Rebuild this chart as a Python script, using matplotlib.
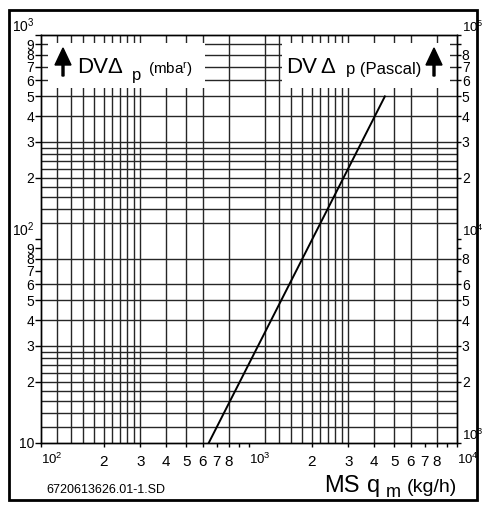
import numpy as np
import matplotlib.pyplot as plt
from matplotlib.patches import Rectangle, FancyArrow

plt.rcParams['font.family'] = ['Liberation Sans', 'DejaVu Sans']

# Kennlinie DV: Massenstrom (kg/h) gegen Druckverlust (mbar)
flow = [640, 4500]
dp = [10, 500]

# Teilung des Gitters je Dekade
steps = [1.2, 1.4, 1.6, 1.8, 2.0, 2.2, 2.4, 2.6, 2.8, 3.0, 4, 5, 6, 8]

x_minor_labels = ['2', '3', '4', '5', '6', '7', '8', '']
left_minor_labels = ['2', '3', '4', '5', '6', '7', '8', '9']
right_low_labels = ['2', '3', '4', '5', '6', '', '8', '']
right_high_labels = ['2', '3', '4', '5', '6', '7', '8', '']

W, H = 484, 507
fig = plt.figure(figsize=(W / 100, H / 100), dpi=100)
ax = fig.add_axes([41 / W, 1 - 443 / H, 416 / W, 408 / H])
ax.set_xscale('log')
ax.set_yscale('log')
ax.set_xlim(100, 10000)
ax.set_ylim(10, 1000)

# gitter
gc = '0.15'
for d in [100, 1000]:
    for s in steps:
        ax.axvline(d * s, color=gc, lw=1.0, zorder=1)
for d in [10, 100]:
    for s in steps:
        ax.axhline(d * s, color=gc, lw=1.0, zorder=1)
for v in [700, 900]:
    ax.axhline(v, color=gc, lw=1.0, zorder=1)

# weisse Felder fuer die Achsentitel
ax.add_patch(Rectangle((108, 550), 614 - 108, 914 - 550, facecolor='white',
                       edgecolor='none', zorder=2))
ax.add_patch(Rectangle((1443, 550), 9250 - 1443, 914 - 550, facecolor='white',
                       edgecolor='none', zorder=2))

ax.plot(flow, dp, color='k', lw=1.4, zorder=3)

for sp in ax.spines.values():
    sp.set_linewidth(1.0)
    sp.set_zorder(4)

minors = [2, 3, 4, 5, 6, 7, 8, 9]
dec_size = 9.5
dig_size = 10

# Achse unten
ax.set_xticks([100, 1000, 10000],
              [r'$\mathregular{10^2}$', r'$\mathregular{10^3}$', r'$\mathregular{10^4}$'])
ax.set_xticks([d * m for d in [100, 1000] for m in minors],
              x_minor_labels * 2, minor=True)
ax.tick_params(axis='x', which='both', direction='out', length=3, width=1, pad=3)
ax.tick_params(axis='x', which='major', labelsize=dec_size)
ax.tick_params(axis='x', which='minor', labelsize=dig_size + 1)
for lab in ax.get_xticklabels():
    lab.set_ha('left')
    lab.set_va('top')
for lab in ax.get_xticklabels(minor=True):
    lab.set_y(-0.01)

# Achse links (mbar)
ax.set_yticks([10, 100, 1000], ['10', r'$\mathregular{10^2}$', r'$\mathregular{10^3}$'])
ax.set_yticks([d * m for d in [10, 100] for m in minors],
              left_minor_labels * 2, minor=True)
ax.tick_params(axis='y', which='both', direction='out', length=4, width=1, pad=1)
ax.tick_params(axis='y', which='major', labelsize=dec_size + 0.5)
ax.tick_params(axis='y', which='minor', labelsize=dig_size)
ylabs = ax.get_yticklabels()
ylabs[1].set_va('bottom')
ylabs[2].set_va('bottom')

# Achse rechts (Pascal)
ax2 = ax.twinx()
ax2.set_yscale('log')
ax2.set_ylim(1000, 100000)
ax2.set_yticks([1000, 10000, 100000],
               [r'$\mathregular{10^3}$', r'$\mathregular{10^4}$', r'$\mathregular{10^5}$'])
ax2.set_yticks([d * m for d in [1000, 10000] for m in minors],
               right_low_labels + right_high_labels, minor=True)
ax2.tick_params(axis='y', which='both', direction='out', length=3, width=1, pad=0.5)
ax2.tick_params(axis='y', which='major', labelsize=dec_size)
ax2.tick_params(axis='y', which='minor', labelsize=dig_size)
for lab in ax2.get_yticklabels():
    lab.set_va('bottom')
for sp in ax2.spines.values():
    sp.set_linewidth(1.0)


def ftext(x, y, s, **kw):
    fig.text(x / W, 1 - y / H, s, va='baseline', ha='left', **kw)


def farrow(x, y_top, y_bot):
    fig.add_artist(FancyArrow(x / 100, (H - y_bot) / 100, 0, (y_bot - y_top) / 100,
                              width=0.02, head_width=0.16, head_length=0.17,
                              length_includes_head=True, color='k',
                              transform=fig.dpi_scale_trans))


farrow(63, 48, 76)
ftext(77, 73, 'DVΔ', fontsize=16)
ftext(132, 80, 'p', fontsize=12)
ftext(148, 74, r'(mba$\mathregular{^r}$)', fontsize=11)

ftext(286, 73, 'DV', fontsize=16)
ftext(320, 73, 'Δ', fontsize=16)
ftext(346, 74, 'p (Pascal)', fontsize=12)
farrow(434, 48, 76)

ftext(324, 492, 'MS', fontsize=17)
ftext(367, 492, 'q', fontsize=17)
ftext(386, 497, 'm', fontsize=13)
ftext(407, 492, '(kg/h)', fontsize=14)

ftext(46, 493, '6720613626.01-1.SD', fontsize=9)

# Rahmen
fig.add_artist(Rectangle((9 / 100, (H - 500) / 100), 468 / 100, 490 / 100,
                         fill=False, edgecolor='k', lw=2,
                         transform=fig.dpi_scale_trans))

fig.savefig('out.png', dpi=100)
